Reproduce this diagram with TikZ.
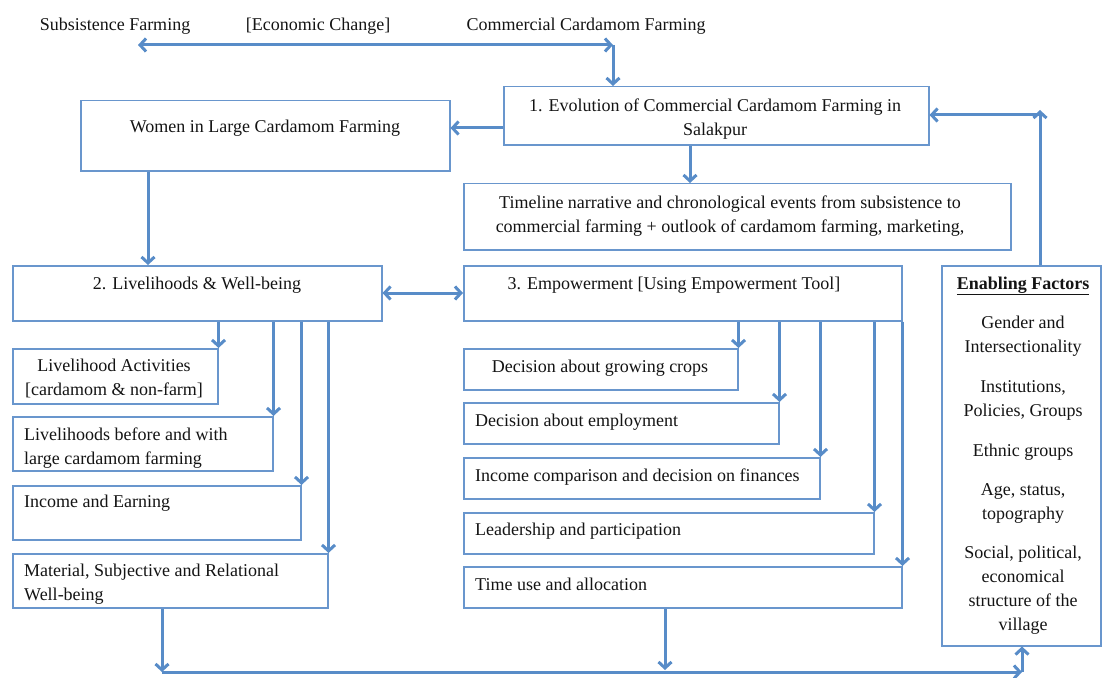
\documentclass[tikz,border=0pt]{standalone}
\usepackage{fontspec}
\setmainfont{Liberation Serif}
\usetikzlibrary{arrows.meta,shadows}
\definecolor{arrc}{RGB}{88,140,200}
\definecolor{boxc}{RGB}{105,150,205}
\definecolor{ink}{RGB}{20,20,20}
\begin{document}
\begin{tikzpicture}[x=1bp,y=-1bp,
  box/.style={draw=boxc, line width=1.5bp, fill=white, inner sep=0pt, anchor=north west,
    drop shadow={shadow xshift=1bp, shadow yshift=-1.5bp, opacity=0.15, fill=black}},
  txt/.style={inner sep=0pt, text=ink, font=\fontsize{18bp}{24bp}\selectfont},
  ctr/.style={txt, anchor=base},
  lft/.style={txt, anchor=base west},
  multi/.style={txt, anchor=north, align=center},
  multil/.style={txt, anchor=north west, align=left},
  arr/.style={draw=arrc, line width=3bp, -{Straight Barb[length=6bp,width=13bp]}},
  dbl/.style={arr, {Straight Barb[length=6bp,width=13bp]}-{Straight Barb[length=6bp,width=13bp]}},
]
\useasboundingbox (0,0) rectangle (1102,678);

% ---- boxes ----
\node[box, minimum width=425bp, minimum height=58bp] (b1)  at (503,86)  {};
\node[box, minimum width=369bp, minimum height=70bp] (wom) at (80,100)  {};
\node[box, minimum width=547bp, minimum height=66bp] (tl)  at (463,183) {};
\node[box, minimum width=369bp, minimum height=55bp] (b2)  at (12,265)  {};
\node[box, minimum width=438bp, minimum height=55bp] (b3)  at (463,265) {};
\node[box, minimum width=159bp, minimum height=380bp] (ef) at (941,265) {};
\node[box, minimum width=205bp, minimum height=55bp] (la)  at (12,348)  {};
\node[box, minimum width=260bp, minimum height=54bp] (lb)  at (12,416)  {};
\node[box, minimum width=288bp, minimum height=54bp] (ie)  at (12,485)  {};
\node[box, minimum width=315bp, minimum height=54bp] (mw)  at (12,553)  {};
\node[box, minimum width=274bp, minimum height=41bp] (dc)  at (463,348) {};
\node[box, minimum width=315bp, minimum height=41bp] (de)  at (463,402) {};
\node[box, minimum width=356bp, minimum height=41bp] (ic)  at (463,457) {};
\node[box, minimum width=410bp, minimum height=41bp] (lp)  at (463,512) {};
\node[box, minimum width=438bp, minimum height=41bp] (tu)  at (463,566) {};

% ---- texts ----
\node[ctr] (sf) at (115,31) {Subsistence Farming};
\node[ctr] (ec) at (318,31) {[Economic Change]};
\node[ctr] (cc) at (586,31) {Commercial Cardamom Farming};

\node[multi] (t1) at (715,94.2) {\strut 1. Evolution of Commercial Cardamom Farming in\\Salakpur};
\node[ctr] (twom) at (265,133) {Women in Large Cardamom Farming};
\node[multi] (ttl) at (730,191.2) {\strut Timeline narrative and chronological events from subsistence to\\commercial farming + outlook of cardamom farming, marketing,};
\node[ctr] (t2) at (197,289) {2. Livelihoods \& Well-being};
\node[ctr] (t3) at (674,289) {3. Empowerment [Using Empowerment Tool]};

\node[multi] (tla) at (114,354.2) {\strut Livelihood Activities\\{[}cardamom \& non-farm]};
\node[multil] (tlb) at (24,423.2) {\strut Livelihoods before and with\\large cardamom farming};
\node[lft] (tie) at (24,507) {Income and Earning};
\node[multil] (tmw) at (24,559.2) {\strut Material, Subjective and Relational\\Well-being};

\node[ctr] (tdc) at (600,372) {Decision about growing crops};
\node[lft] (tde) at (475,426) {Decision about employment};
\node[lft] (tic) at (475,481) {Income comparison and decision on finances};
\node[lft] (tlp) at (475,535) {Leadership and participation};
\node[lft] (ttu) at (475,590) {Time use and allocation};

\node[ctr] (tef) at (1023,289) {\underline{\textbf{Enabling Factors}}};
\node[multi] (g1) at (1023,311.2) {\strut Gender and\\Intersectionality};
\node[multi] (g2) at (1023,375.2) {\strut Institutions,\\Policies, Groups};
\node[ctr]   (g3) at (1023,456) {Ethnic groups};
\node[multi] (g4) at (1023,478.2) {\strut Age, status,\\topography};
\node[multi] (g5) at (1023,541.2) {\strut Social, political,\\economical\\structure of the\\village};

% ---- connectors ----
\coordinate (ecL) at (138,45);
\coordinate (ecR) at (613,45);
\draw[dbl] (ecL) -- (ecR);
\draw[arr] (ecR) -- (ecR |- b1.north);

\coordinate (wA) at (0,128);
\draw[arr] (wA -| b1.west) -- (wA -| wom.east);
\coordinate (tA) at (690,0);
\draw[arr] (tA |- b1.south) -- (tA |- tl.north);
\coordinate (wB) at (148,0);
\draw[arr] (wB |- wom.south) -- (wB |- b2.north);
\coordinate (lr) at (0,293);
\draw[dbl] (lr -| b2.east) -- (lr -| b3.west);

\foreach \n in {la,lb,ie,mw} \draw[arr] (\n.north east |- b2.south) -- (\n.north east);
\foreach \n in {dc,de,ic,lp,tu} \draw[arr] (\n.north east |- b3.south) -- (\n.north east);

\coordinate (fbT) at (1040,110);
\coordinate (fbC) at (1040,115);
\draw[arr] (fbT |- ef.north) -- (fbT);
\draw[arr] (fbC) -- (fbC -| b1.east);

\coordinate (busL) at (162,672);
\coordinate (busM) at (665,670);
\coordinate (busR) at (1022,672);
\draw[arr] (busL |- mw.south) -- (busL);
\draw[arr] (busM |- tu.south) -- (busM);
\draw[arr] (busL) -- (busR);
\draw[arr] (busR) -- (busR |- ef.south);
\end{tikzpicture}
\end{document}
